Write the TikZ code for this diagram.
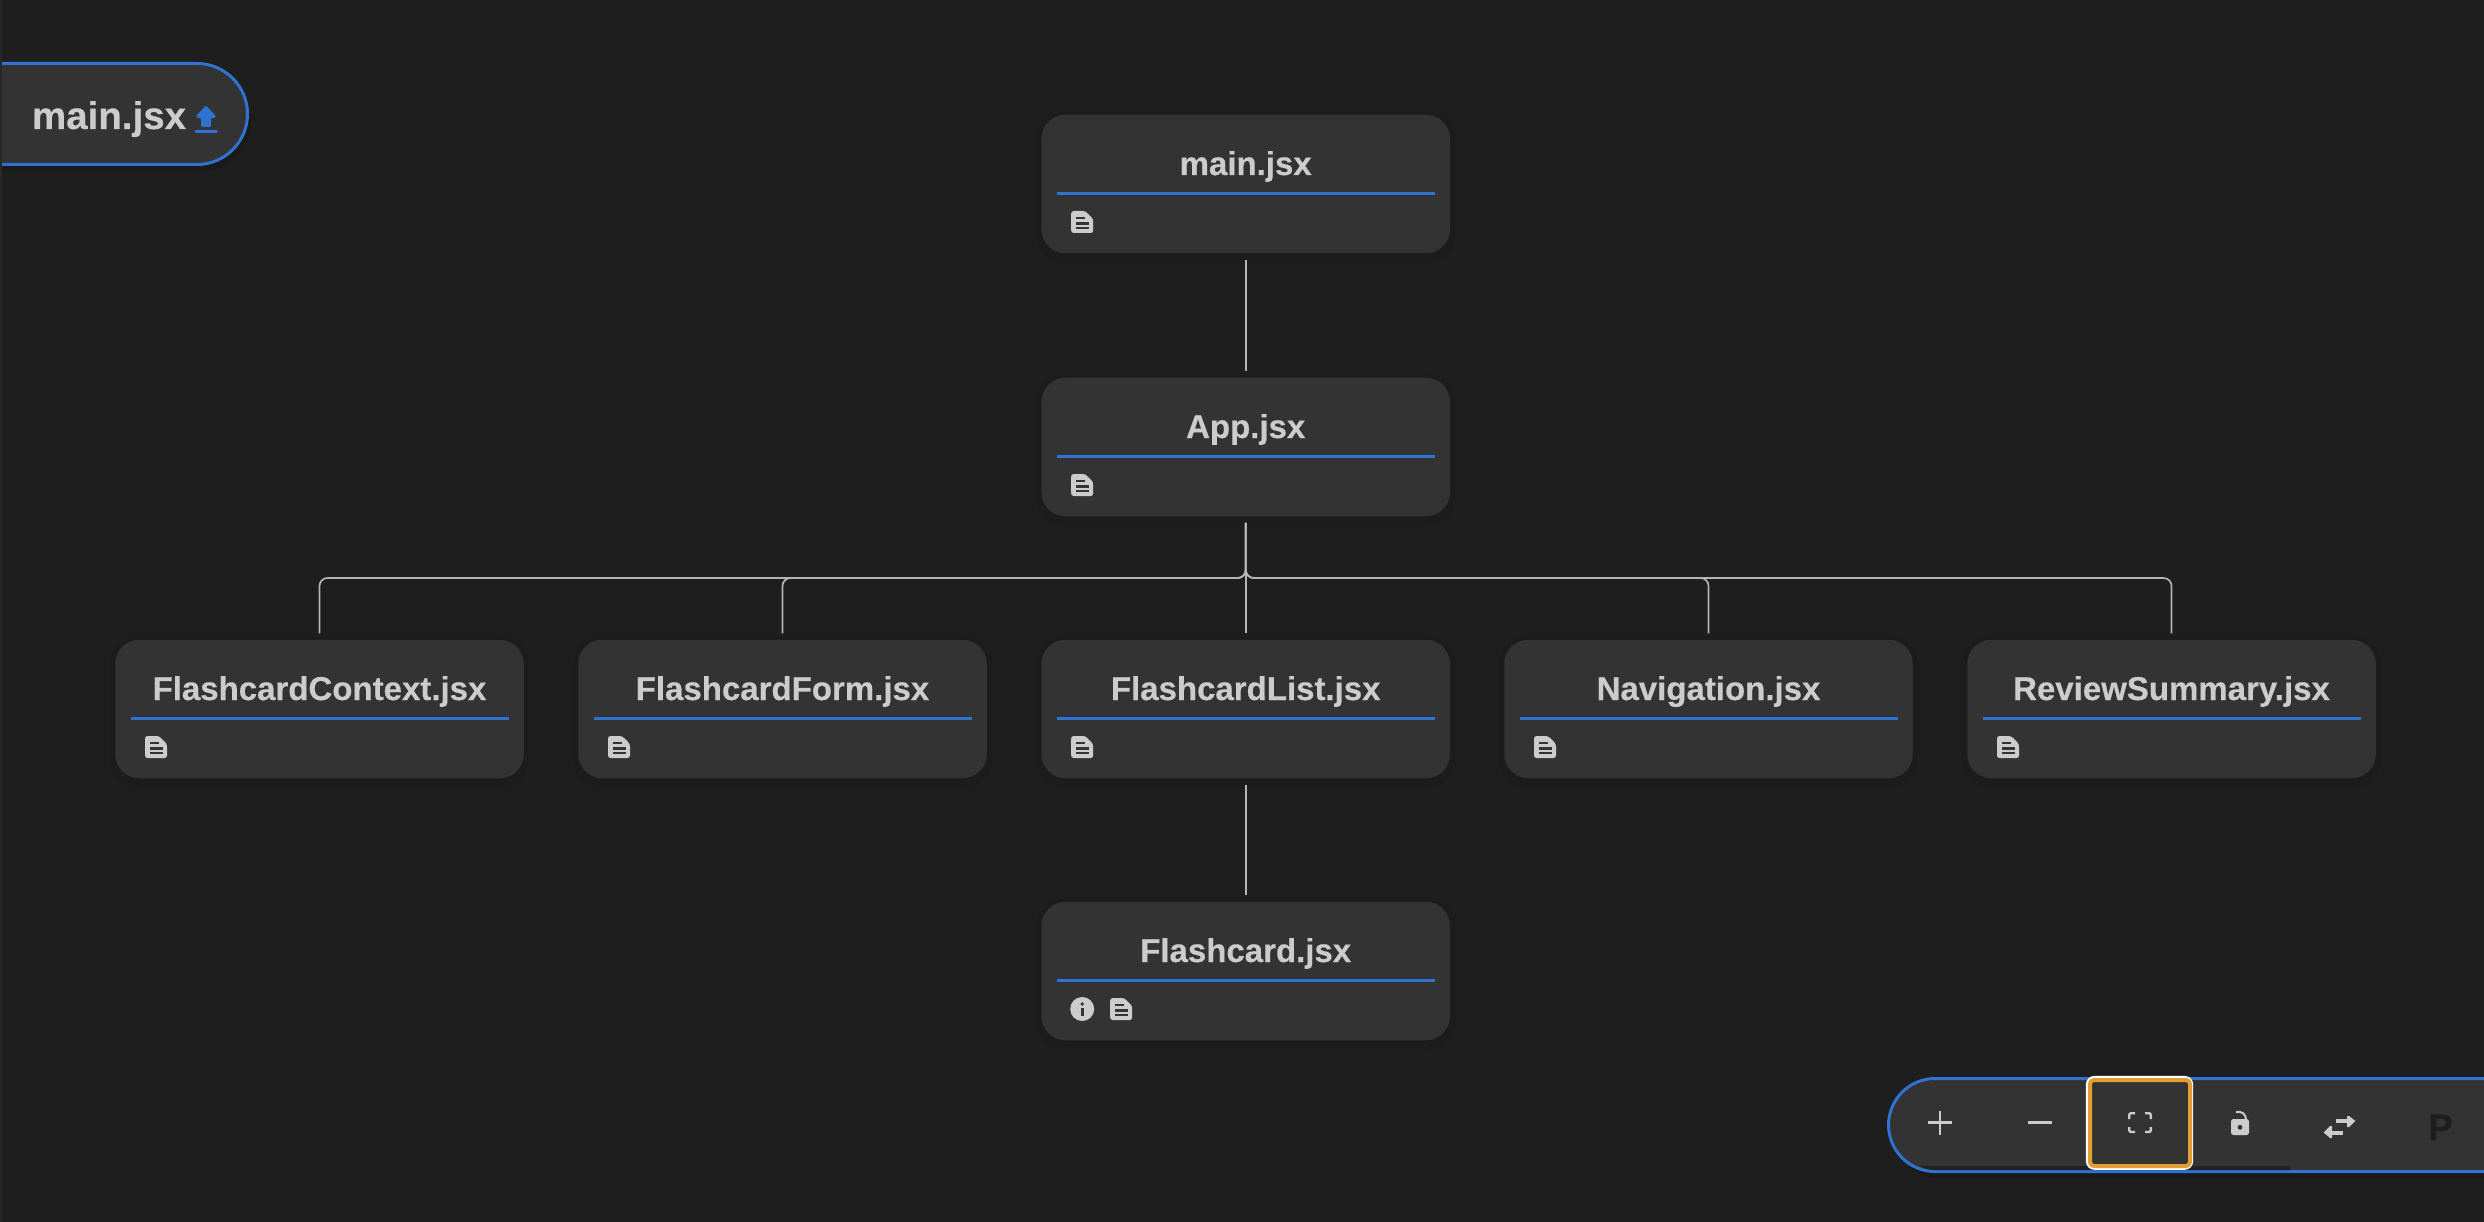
\documentclass[tikz,border=0pt]{standalone}
\usepackage{fontspec}
\setmainfont[BoldFeatures={FakeBold=0.35}]{Liberation Sans}
\definecolor{bgc}{HTML}{1E1E1E}
\definecolor{cardc}{HTML}{333333}
\definecolor{txtc}{HTML}{CCCCCC}
\definecolor{bluec}{HTML}{2F72CF}
\definecolor{linec}{HTML}{B4B4B8}
\definecolor{orangec}{HTML}{E09E35}
\tikzset{
  card/.style={fill=cardc,rounded corners=24pt,minimum width=408.5pt,minimum height=138.5pt,inner sep=0pt,outer sep=0pt},
  cardshadow/.style={fill=black,opacity=0.05,rounded corners=28pt,minimum width=420pt,minimum height=150pt,inner sep=0pt,outer sep=0pt},
  title/.style={text=txtc,inner sep=0pt,outer sep=0pt,anchor=base,font=\fontsize{33}{40}\bfseries\selectfont},
  conn/.style={draw=linec,line width=1.7pt,rounded corners=8pt,shorten <=6.5pt,shorten >=6.5pt},
  rulel/.style={draw=bluec,line width=3.2pt},
  docicon/.pic={
    \fill[txtc,rounded corners=2.5pt] (-11,-11) -- (3,-11) -- (11,-3) -- (11,11) -- (-11,11) -- cycle;
    \fill[cardc] (-6.5,-5) rectangle (2.5,-2.8);
    \fill[cardc] (-6.5,0.2) rectangle (6.5,2.6);
    \fill[cardc] (-6.5,5) rectangle (6.5,7.4);
  },
  infoicon/.pic={
    \fill[txtc] (0,0) circle (12);
    \fill[cardc] (0,-5) circle (1.9);
    \fill[cardc] (-1.6,-1.5) rectangle (1.6,6.5);
  }
}
\newcommand{\cardat}[3]{%
  \node[cardshadow] at (#2,#3+3) {};
  \node[card] (#1) at (#2,#3) {};
}
\begin{document}
\begin{tikzpicture}[x=1pt,y=-1pt]
\useasboundingbox (0,0) rectangle (2484,1222);
\fill[bgc] (0,0) rectangle (2484,1222);
\fill[cardc!45!bgc] (0,0) rectangle (2,1222);

% cards
\cardat{nmain}{1245.7}{184}
\cardat{napp}{1245.7}{447}
\cardat{nctx}{319.5}{709}
\cardat{nform}{782.5}{709}
\cardat{nlist}{1245.7}{709}
\cardat{nnav}{1708.5}{709}
\cardat{nrev}{2171.5}{709}
\cardat{nflash}{1245.7}{971}

% titles
\foreach \n/\t in {nmain/main.jsx,napp/App.jsx,nctx/FlashcardContext.jsx,nform/FlashcardForm.jsx,nlist/FlashcardList.jsx,nnav/Navigation.jsx,nrev/ReviewSummary.jsx,nflash/Flashcard.jsx}{
  \node[title] (\n t) at ([yshift=9pt]\n.center) {\t};
  \draw[rulel] ([xshift=-189pt,yshift=-9.5pt]\n.center) -- ([xshift=189pt,yshift=-9.5pt]\n.center);
}
% icons
\foreach \n in {nmain,napp,nctx,nform,nlist,nnav,nrev}{
  \path ([xshift=-163.5pt,yshift=-38pt]\n.center) pic {docicon};
}
\path ([xshift=-163.5pt,yshift=-38pt]nflash.center) pic {infoicon};
\path ([xshift=-124.5pt,yshift=-38pt]nflash.center) pic {docicon};

% connectors
\coordinate (bus) at (1245.7,578);
\draw[conn] (nmain.south) -- (napp.north);
\draw[conn] (nlist.south) -- (nflash.north);
\foreach \n in {nctx,nform,nnav,nrev}{
  \draw[conn] (napp.south) -- (napp.south |- bus) -- (\n.north |- bus) -- (\n.north);
}
\draw[conn] (napp.south) -- (nlist.north);

% top-left pill
\fill[black,opacity=0.12] (2,70) -- (200,70) arc (-90:90:51) -- (2,172) -- cycle;
\filldraw[fill=cardc,draw=bluec,line width=3pt] (2,63.5) -- (197,63.5) arc (-90:90:50.5) -- (2,164.5);
\fill[cardc] (2,65) rectangle (3,163);
\node[title,font=\fontsize{38.5}{44}\bfseries\selectfont,anchor=base west] (pillt) at (32,129) {main.jsx};
\fill[bluec,rounded corners=1pt] (206,105.5) -- (215.5,115.5) -- (215.5,118) -- (211,118) -- (211,127) -- (201,127) -- (201,118) -- (196.5,118) -- (196.5,115.5) -- cycle;
\fill[bluec,rounded corners=1pt] (195,130) rectangle (217.5,133);

% toolbar
\fill[black,opacity=0.12] (2484,1084) -- (1940,1084) arc (270:90:47) -- (2484,1178) -- cycle;
\filldraw[fill=cardc,draw=bluec,line width=3pt] (2486,1078.5) -- (1935,1078.5) arc (270:90:46.5) -- (2486,1171.5);
\fill[bgc!85!cardc] (1935,1166) -- (2290,1166) -- (2290,1170) -- (1935,1170) arc (90:120:30) -- cycle;
% fit-view button
\fill[cardc] (2088,1078) rectangle (2191,1168);
\draw[draw=white,line width=2.5pt,rounded corners=7pt] (2087.2,1077.2) rectangle (2191.8,1168.5);
\draw[draw=orangec,line width=4pt,rounded corners=4pt] (2090,1080) rectangle (2190,1166);
% plus, minus
\draw[txtc,line width=2.6pt] (1928,1122.7) -- (1952,1122.7) (1940,1111) -- (1940,1135);
\draw[txtc,line width=3pt] (2028,1122) -- (2052,1122);
% fit-view corners
\begin{scope}[txtc,line width=2.4pt,rounded corners=2pt]
\draw (2129.2,1119) -- (2129.2,1113.2) -- (2135,1113.2);
\draw (2145,1113.2) -- (2150.8,1113.2) -- (2150.8,1119);
\draw (2129.2,1127) -- (2129.2,1132) -- (2135,1132);
\draw (2145,1132) -- (2150.8,1132) -- (2150.8,1127);
\end{scope}
% lock
\fill[txtc,rounded corners=2.5pt] (2231,1119) rectangle (2249,1135);
\fill[cardc] (2240,1127.3) circle (2.4);
\draw[txtc,line width=2pt] (2236,1112) .. controls (2242,1111) and (2246,1114) .. (2246,1120);
% swap arrows
\fill[txtc] (2336,1119) rectangle (2348,1123);
\fill[txtc] (2347,1116) -- (2349,1116) -- (2355.4,1121) -- (2349,1127) -- (2347,1127) -- cycle;
\fill[txtc] (2331,1131) rectangle (2343,1135);
\fill[txtc] (2332,1126) -- (2330,1126) -- (2323.6,1132.5) -- (2330,1138) -- (2332,1138) -- cycle;
% P
\node[inner sep=0pt,outer sep=0pt,text=bgc,anchor=base,font=\fontsize{37}{44}\bfseries\selectfont] (pbtn) at (2440.5,1140) {P};
\end{tikzpicture}
\end{document}
